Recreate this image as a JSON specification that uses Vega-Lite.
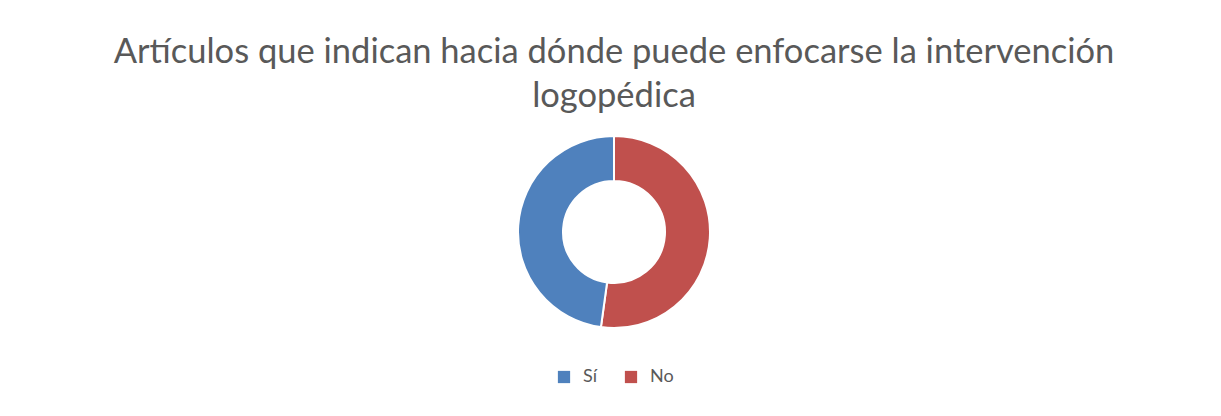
{
  "$schema": "https://vega.github.io/schema/vega-lite/v6.json",
  "width": 1212,
  "height": 200,
  "autosize": {"type": "none"},
  "padding": {"left": 8, "right": 1, "top": 132, "bottom": 84},
  "background": "white",
  "title": {
    "text": ["Artículos que indican hacia dónde puede enfocarse la intervención", "logopédica"],
    "anchor": "middle",
    "font": "Lato",
    "fontSize": 34.5,
    "fontWeight": "normal",
    "color": "#595959",
    "lineHeight": 44,
    "offset": 18
  },
  "data": {
    "values": [
      {"respuesta": "No", "articulos": 12, "orden": 1},
      {"respuesta": "Sí", "articulos": 11, "orden": 2}
    ]
  },
  "mark": {"type": "arc", "outerRadius": 96, "innerRadius": 51, "stroke": "white", "strokeWidth": 2},
  "encoding": {
    "theta": {"field": "articulos", "type": "quantitative", "stack": true},
    "order": {"field": "orden", "type": "quantitative"},
    "color": {
      "field": "respuesta",
      "type": "nominal",
      "scale": {"domain": ["Sí", "No"], "range": ["#4F81BD", "#C0504D"]},
      "legend": {
        "title": null,
        "orient": "bottom",
        "direction": "horizontal",
        "offset": 36,
        "symbolType": "square",
        "symbolSize": 150,
        "symbolStrokeWidth": 0,
        "labelFont": "Lato",
        "labelFontSize": 18,
        "labelColor": "#595959",
        "columnPadding": 24,
        "labelOffset": 10
      }
    }
  },
  "config": {
    "view": {"stroke": null},
    "legend": {"layout": {"bottom": {"anchor": "middle"}}}
  }
}
